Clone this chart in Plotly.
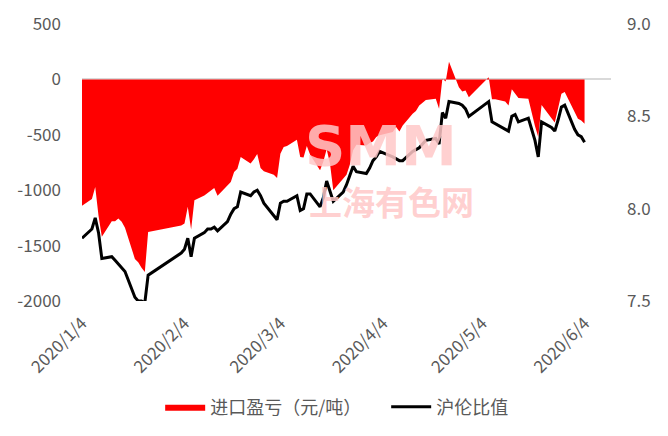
import plotly.graph_objects as go

# ---- datos ----
fechas = [
    "2020-01-04", "2020-01-06", "2020-01-07", "2020-01-08", "2020-01-09", "2020-01-10",
    "2020-01-13", "2020-01-14", "2020-01-15", "2020-01-16", "2020-01-17",
    "2020-01-20", "2020-01-21", "2020-01-22", "2020-01-23", "2020-01-24",
    "2020-02-03", "2020-02-04", "2020-02-05", "2020-02-06", "2020-02-07",
    "2020-02-10", "2020-02-11", "2020-02-12", "2020-02-13", "2020-02-14",
    "2020-02-17", "2020-02-18", "2020-02-19", "2020-02-20", "2020-02-21",
    "2020-02-24", "2020-02-25", "2020-02-26", "2020-02-27", "2020-02-28",
    "2020-03-02", "2020-03-03", "2020-03-04", "2020-03-05", "2020-03-06",
    "2020-03-09", "2020-03-10", "2020-03-11", "2020-03-12", "2020-03-13",
    "2020-03-16", "2020-03-17", "2020-03-18", "2020-03-19", "2020-03-20",
    "2020-03-23", "2020-03-24", "2020-03-25", "2020-03-26", "2020-03-27",
    "2020-03-30", "2020-03-31", "2020-04-01", "2020-04-02", "2020-04-03",
    "2020-04-07", "2020-04-08", "2020-04-09", "2020-04-10",
    "2020-04-13", "2020-04-14", "2020-04-15", "2020-04-16", "2020-04-17",
    "2020-04-20", "2020-04-21", "2020-04-22", "2020-04-23", "2020-04-24",
    "2020-04-27", "2020-04-28", "2020-04-29", "2020-04-30",
    "2020-05-06", "2020-05-07", "2020-05-08",
    "2020-05-11", "2020-05-12", "2020-05-13", "2020-05-14", "2020-05-15",
    "2020-05-18", "2020-05-19", "2020-05-20", "2020-05-21", "2020-05-22",
    "2020-05-25", "2020-05-26", "2020-05-27", "2020-05-28", "2020-05-29",
    "2020-06-01", "2020-06-02", "2020-06-03", "2020-06-04",
]

# 进口盈亏（元/吨）
ying_kui = [
    -1140, -1100, -1080, -970, -1230, -1420,
    -1280, -1280, -1255, -1285, -1340,
    -1620, -1650, -1700, -1739, -1378,
    -1318, -1300, -1150, -1355, -1090,
    -1047, -1025, -1000, -981, -1050,
    -957, -927, -836, -806, -700,
    -760, -720, -674, -800, -830,
    -860, -890, -670, -610, -600,
    -545, -700, -705, -600, -680,
    -820, -740, -630, -760, -1000,
    -900, -860, -770, -640, -590,
    -596, -575, -560, -520, -505,
    -475, -430, -470, -415,
    -310, -285, -235, -210, -185,
    -174, -265, 6, -20, 160,
    -70, -110, -100, -160,
    20, -180, -180,
    -200, -235, -90, -130, -168,
    -174, -300, -420, -520, -230,
    -350, -390, -260, -130, -114,
    -300, -355, -370, -400,
]

# 沪伦比值
bi_zhi = [
    7.84, 7.87, 7.89, 7.95, 7.87, 7.73,
    7.74, 7.72, 7.70, 7.68, 7.66,
    7.52, 7.50, 7.50, 7.49, 7.64,
    7.76, 7.78, 7.84, 7.74, 7.84,
    7.87, 7.89, 7.89, 7.90, 7.88,
    7.93, 7.97, 8.00, 8.01, 8.09,
    8.07, 8.09, 8.10, 8.07, 8.03,
    7.96, 7.94, 8.03, 8.04, 8.04,
    8.07, 7.99, 8.00, 8.08, 8.08,
    8.01, 8.06, 8.15, 8.09, 8.04,
    8.09, 8.13, 8.18, 8.23, 8.20,
    8.19, 8.22, 8.26, 8.28, 8.31,
    8.28, 8.27, 8.26, 8.26,
    8.31, 8.32, 8.33, 8.35, 8.37,
    8.38, 8.35, 8.52, 8.49, 8.58,
    8.57, 8.56, 8.54, 8.50,
    8.58, 8.47, 8.46,
    8.43, 8.42, 8.50, 8.51, 8.47,
    8.49, 8.43, 8.37, 8.28, 8.47,
    8.44, 8.42, 8.48, 8.55, 8.56,
    8.43, 8.40, 8.39, 8.36,
]

ticks_x = ["2020-01-04", "2020-02-04", "2020-03-04", "2020-04-04", "2020-05-04", "2020-06-04"]
ticks_txt = ["2020/1/4", "2020/2/4", "2020/3/4", "2020/4/4", "2020/5/4", "2020/6/4"]
ticks_izq = [-2000, -1500, -1000, -500, 0, 500]
ticks_izq_txt = ["-2000", "-1500", "-1000", "-500", "0", "500"]

FUENTE = "Noto Sans CJK SC"
GRIS = "#595959"
ROSA = "rgba(255,200,200,0.85)"

fig = go.Figure()

fig.add_trace(go.Scatter(
    x=fechas, y=ying_kui, name="进口盈亏（元/吨）",
    mode="lines", fill="tozeroy", fillcolor="#FF0000",
    line=dict(color="#FF0000", width=0), yaxis="y",
))
fig.add_trace(go.Scatter(
    x=fechas, y=bi_zhi, name="沪伦比值",
    mode="lines", line=dict(color="#000000", width=3), yaxis="y2",
))

# el body de la página deja 8px de margen: la figura va 8px más chica
fig.update_layout(
    width=660, height=428,
    paper_bgcolor="white", plot_bgcolor="white",
    margin=dict(l=74, r=57, t=16, b=135, autoexpand=False),
    font=dict(family=FUENTE, size=17, color=GRIS),
    showlegend=True,
    legend=dict(
        orientation="h", x=0.575, xanchor="center", y=-0.383, yanchor="middle",
        font=dict(family=FUENTE, size=18, color=GRIS),
        itemwidth=40, entrywidth=171, entrywidthmode="pixels",
    ),
    xaxis=dict(
        type="date", range=["2020-01-04", "2020-06-12"],
        tickvals=ticks_x, ticktext=ticks_txt, tickangle=-45,
        tickfont=dict(family=FUENTE, size=17, color=GRIS),
        showgrid=False, zeroline=False, showline=False, ticks="",
        ticklabelstandoff=8, automargin=False,
    ),
    yaxis=dict(
        range=[-2000, 500], tickvals=ticks_izq, ticktext=ticks_izq_txt, showgrid=False,
        zeroline=True, zerolinecolor="#D9D9D9", zerolinewidth=2,
        showline=False, ticks="", layer="above traces",
        tickfont=dict(family=FUENTE, size=17, color=GRIS),
        ticklabelstandoff=20, automargin=False,
    ),
    yaxis2=dict(
        range=[7.5, 9.0], dtick=0.5, tickformat=".1f", overlaying="y", side="right",
        showgrid=False, zeroline=False, showline=False, ticks="",
        tickfont=dict(family=FUENTE, size=17, color=GRIS),
        ticklabelstandoff=15, automargin=False,
    ),
    # marca de agua
    annotations=[
        dict(text="<b>SMM</b>", xref="paper", yref="paper", x=0.565, y=0.563,
             showarrow=False, font=dict(family="DejaVu Sans", size=56, color=ROSA)),
        dict(text="<b>上海有色网</b>", xref="paper", yref="paper", x=0.585, y=0.361,
             showarrow=False, font=dict(family=FUENTE, size=33, color=ROSA)),
    ],
)

fig.write_html("out.html")
